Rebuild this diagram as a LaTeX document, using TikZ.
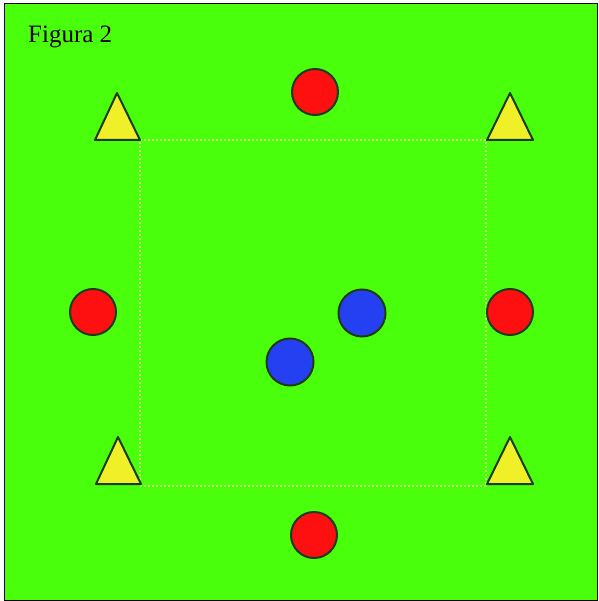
\documentclass[tikz,border=0pt]{standalone}
\usepackage{fontspec}
\setmainfont{Liberation Serif}
\definecolor{fieldgreen}{RGB}{74,255,12}
\definecolor{conered}{RGB}{255,16,16}
\definecolor{playerblue}{RGB}{36,64,240}
\definecolor{coneyellow}{RGB}{240,240,40}
\definecolor{edgedark}{RGB}{30,60,20}
\definecolor{lineyellow}{RGB}{190,250,110}
\begin{document}
\begin{tikzpicture}[x=1pt,y=-1pt,
  redball/.style={circle,draw=edgedark,line width=2pt,fill=conered,minimum size=46pt,inner sep=0pt},
  blueball/.style={circle,draw=edgedark,line width=2pt,fill=playerblue,minimum size=47pt,inner sep=0pt},
  cone/.style={draw=edgedark,line width=2pt,fill=coneyellow,line join=round}]
\useasboundingbox (0,0) rectangle (598,601);
\fill[white] (0,0) rectangle (598,601);
\draw[fill=fieldgreen,line width=1pt] (4,4) rectangle (597,600);
\node[anchor=base west,inner sep=0pt,font=\fontsize{25}{29}\selectfont] (title) at (28,43) {Figura 2};
% dotted square
\coordinate (sq1) at (140,140);
\coordinate (sq2) at (486,140);
\coordinate (sq3) at (486,486);
\coordinate (sq4) at (140,486);
\draw[lineyellow,line width=1.5pt,dash pattern=on 2pt off 2pt] (sq1) -- (sq2) -- (sq3) -- (sq4) -- cycle;
% cones
\draw[cone] (117,93) -- (140,140) -- (95,140) -- cycle;
\draw[cone] (510,93) -- (533,140) -- (487,140) -- cycle;
\draw[cone] (118,437) -- (141,484) -- (96,484) -- cycle;
\draw[cone] (510,437) -- (533,484) -- (487,484) -- cycle;
% red players
\node[redball] (rtop) at (315,92) {};
\node[redball] (rleft) at (93,312) {};
\node[redball] (rright) at (510,312) {};
\node[redball] (rbottom) at (314,535) {};
% blue players
\node[blueball] (b1) at (362,313) {};
\node[blueball] (b2) at (290,362) {};
\end{tikzpicture}
\end{document}
